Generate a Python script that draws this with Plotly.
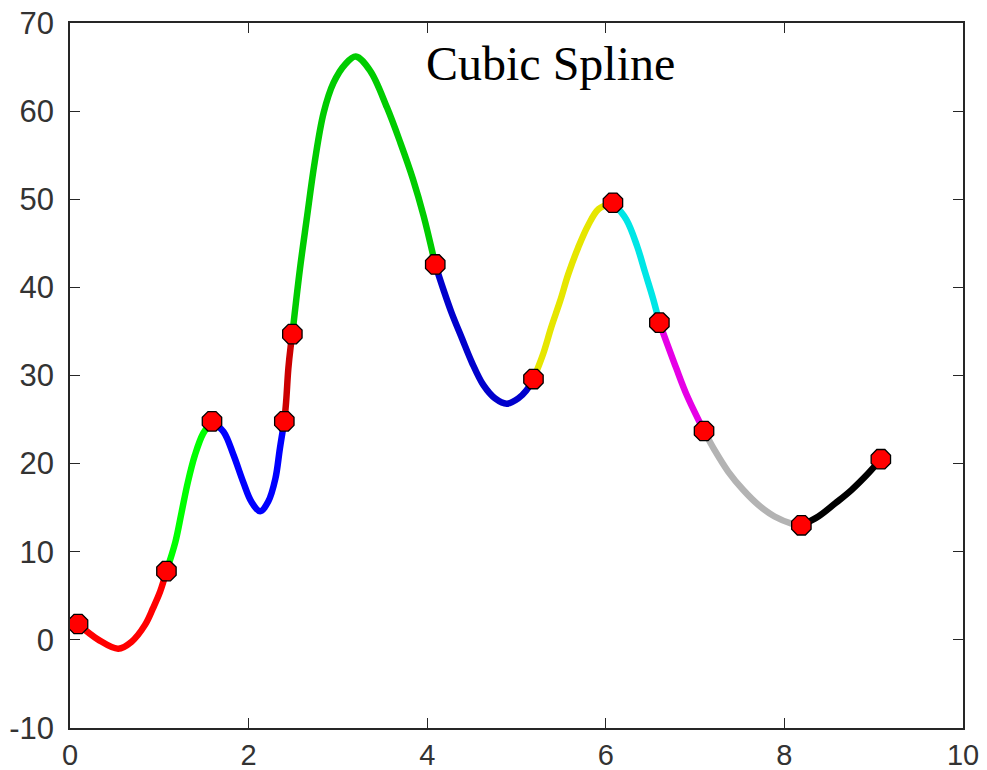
import plotly.graph_objects as go

# Knots (red markers)
knot_x = [0.09, 1.08, 1.59, 2.40, 2.49, 4.09, 5.19, 6.08, 6.60, 7.10, 8.19, 9.08]
knot_y = [1.8, 7.8, 24.8, 24.8, 34.7, 42.6, 29.6, 49.6, 36.0, 23.7, 13.0, 20.5]

# Curve points, one list per coloured segment
seg1_x = [0.09, 0.32, 0.54, 0.69, 0.84, 0.93, 1.01, 1.08]
seg1_y = [1.8, 0.0, -1.0, -0.2, 1.7, 3.6, 5.5, 7.8]
seg2_x = [1.08, 1.18, 1.25, 1.32, 1.40, 1.49, 1.59]
seg2_y = [7.8, 11.1, 14.5, 17.9, 21.0, 23.4, 24.8]
seg3_x = [1.59, 1.72, 1.83, 1.94, 2.03, 2.13, 2.22, 2.30, 2.35, 2.40]
seg3_y = [24.8, 23.6, 21.0, 17.9, 15.7, 14.6, 15.7, 18.3, 21.7, 24.8]
seg4_x = [2.40, 2.42, 2.445, 2.47, 2.49]
seg4_y = [24.8, 27.0, 30.8, 33.2, 34.7]
seg5_x = [2.49, 2.575, 2.65, 2.74, 2.84, 2.95, 3.08, 3.20, 3.36, 3.55, 3.70, 3.84, 3.96, 4.09]
seg5_y = [34.7, 42.1, 47.7, 54.2, 59.8, 63.2, 65.3, 66.2, 64.6, 60.4, 56.4, 52.3, 48.1, 42.6]
seg6_x = [4.09, 4.18, 4.27, 4.39, 4.50, 4.63, 4.76, 4.89, 5.02, 5.11, 5.19]
seg6_y = [42.6, 39.8, 37.2, 34.2, 31.5, 28.9, 27.4, 26.8, 27.4, 28.3, 29.6]
seg7_x = [5.19, 5.30, 5.39, 5.49, 5.58, 5.69, 5.80, 5.92, 6.08]
seg7_y = [29.6, 32.5, 35.5, 38.5, 41.5, 44.5, 47.0, 48.9, 49.6]
seg8_x = [6.08, 6.23, 6.35, 6.44, 6.53, 6.60]
seg8_y = [49.6, 47.7, 44.7, 41.7, 38.7, 36.0]
seg9_x = [6.60, 6.68, 6.79, 6.91, 7.10]
seg9_y = [36.0, 33.8, 30.8, 27.7, 23.7]
seg10_x = [7.10, 7.22, 7.37, 7.54, 7.71, 7.89, 8.08, 8.19]
seg10_y = [23.7, 21.5, 19.1, 17.0, 15.3, 14.0, 13.2, 13.0]
seg11_x = [8.19, 8.38, 8.57, 8.75, 8.94, 9.08]
seg11_y = [13.0, 14.0, 15.5, 17.0, 18.9, 20.5]

segments_x = [seg1_x, seg2_x, seg3_x, seg4_x, seg5_x, seg6_x, seg7_x, seg8_x, seg9_x, seg10_x, seg11_x]
segments_y = [seg1_y, seg2_y, seg3_y, seg4_y, seg5_y, seg6_y, seg7_y, seg8_y, seg9_y, seg10_y, seg11_y]
seg_colors = ["#ff0000", "#00ff00", "#0000ff", "#cc0000", "#00cc00", "#0000cc",
              "#e6e600", "#00e6e6", "#e600e6", "#b3b3b3", "#000000"]

x_ticks = [0, 2, 4, 6, 8, 10]
y_ticks = [-10, 0, 10, 20, 30, 40, 50, 60, 70]

fig = go.Figure()
for sx, sy, c in zip(segments_x, segments_y, seg_colors):
    fig.add_trace(go.Scatter(x=sx, y=sy, mode="lines",
                             line=dict(color=c, width=6.5, shape="spline"),
                             hoverinfo="skip", showlegend=False))

fig.add_trace(go.Scatter(x=knot_x, y=knot_y, mode="markers",
                         marker=dict(symbol="octagon", size=21, color="#ff0000",
                                     line=dict(color="#000000", width=1.3)),
                         showlegend=False))

fig.add_annotation(x=3.965, y=65.4, xref="x", yref="y", text="Cubic Spline",
                   showarrow=False, xanchor="left", yanchor="middle",
                   font=dict(family="Liberation Serif", size=48, color="#000000"))

axis_common = dict(showgrid=False, zeroline=False, showline=True, linecolor="#262626",
                   linewidth=1.6, mirror="ticks", ticks="inside", ticklen=10,
                   tickwidth=1.4, tickcolor="#262626", automargin=False)

fig.update_xaxes(range=[0, 10], tickvals=x_ticks, ticktext=[str(v) for v in x_ticks],
                 ticklabelstandoff=0,
                 tickfont=dict(family="Liberation Sans", size=29, color="#333333"),
                 **axis_common)
fig.update_yaxes(range=[-10, 70], tickvals=y_ticks, ticktext=[str(v) for v in y_ticks],
                 ticklabelstandoff=8,
                 tickfont=dict(family="Liberation Sans", size=31, color="#333333"),
                 **axis_common)

fig.update_layout(width=987, height=770, margin=dict(l=70, r=24, t=23, b=42),
                  plot_bgcolor="white", paper_bgcolor="white", showlegend=False)

fig.write_html("out.html")
